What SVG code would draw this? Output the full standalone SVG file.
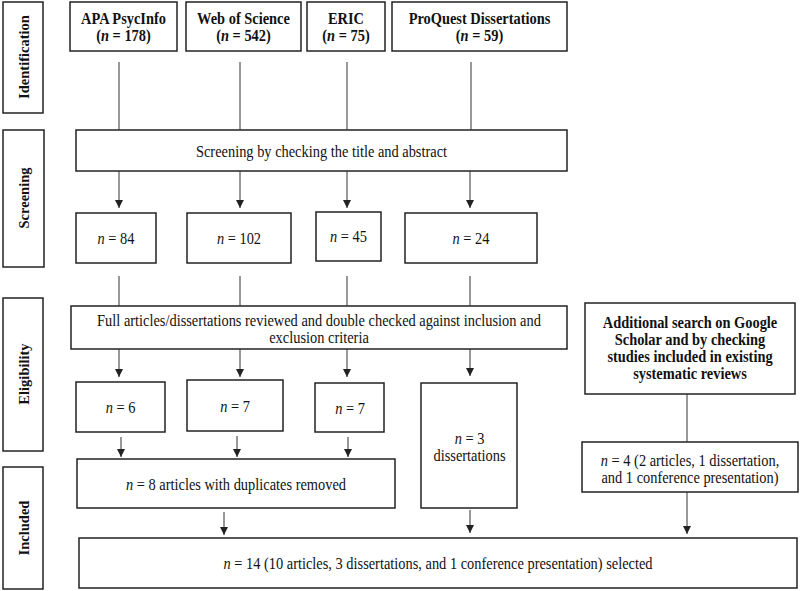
<svg xmlns="http://www.w3.org/2000/svg" width="800" height="591" viewBox="0 0 800 591">
<defs>
<marker id="ah" markerUnits="userSpaceOnUse" markerWidth="8" markerHeight="8" refX="8" refY="4" orient="auto">
<path d="M0,0 L8,4 L0,8 z" fill="#222"/>
</marker>
<style>
.box{fill:#fff;stroke:#222;stroke-width:1.5}
.t{font-family:"Liberation Serif","Times New Roman",serif;font-size:16px;fill:#111;text-anchor:middle}
.r{font-size:14.5px}
.b{font-weight:bold}
.i{font-style:italic}
.ln{stroke:#333;stroke-width:1;fill:none}
.ar{stroke:#333;stroke-width:1;fill:none;marker-end:url(#ah)}
</style>
</defs>
<rect width="800" height="591" fill="#fff"/>

<g id="phase-identification"><rect class="box" x="3" y="2" width="40" height="111"/><text class="t b r" transform="translate(29,57) rotate(-90)">Identification</text></g>
<g id="phase-screening"><rect class="box" x="3" y="130" width="41" height="137"/><text class="t b r" transform="translate(29,198) rotate(-90)">Screening</text></g>
<g id="phase-eligibility"><rect class="box" x="3" y="298" width="40" height="153"/><text class="t b r" transform="translate(29,374) rotate(-90)">Eligibility</text></g>
<g id="phase-included"><rect class="box" x="3" y="467" width="40" height="122"/><text class="t b r" transform="translate(29,528) rotate(-90)">Included</text></g>

<g id="src-apa"><rect class="box" x="70" y="2" width="107" height="49"/><text class="t b" transform="translate(123.5,24) scale(0.9,1)">APA PsycInfo</text><text class="t b" transform="translate(123.5,41) scale(0.9,1)">(<tspan class="i">n</tspan> = 178)</text></g>
<g id="src-wos"><rect class="box" x="186" y="2" width="115" height="49"/><text class="t b" transform="translate(243.5,24) scale(0.9,1)">Web of Science</text><text class="t b" transform="translate(243.5,41) scale(0.9,1)">(<tspan class="i">n</tspan> = 542)</text></g>
<g id="src-eric"><rect class="box" x="307" y="2" width="78" height="49"/><text class="t b" transform="translate(346,24) scale(0.9,1)">ERIC</text><text class="t b" transform="translate(346,41) scale(0.9,1)">(<tspan class="i">n</tspan> = 75)</text></g>
<g id="src-proquest"><rect class="box" x="392" y="2" width="175" height="49"/><text class="t b" transform="translate(479.5,24) scale(0.9,1)">ProQuest Dissertations</text><text class="t b" transform="translate(479.5,41) scale(0.9,1)">(<tspan class="i">n</tspan> = 59)</text></g>

<g id="screening"><rect class="box" x="76" y="130" width="491" height="41"/><text class="t" transform="translate(321.5,157) scale(0.9,1)">Screening by checking the title and abstract</text></g>

<g id="scr-apa"><rect class="box" x="76" y="213" width="80" height="50"/><text class="t" transform="translate(116,244) scale(0.9,1)"><tspan class="i">n</tspan> = 84</text></g>
<g id="scr-wos"><rect class="box" x="187" y="213" width="104" height="50"/><text class="t" transform="translate(239,244) scale(0.9,1)"><tspan class="i">n</tspan> = 102</text></g>
<g id="scr-eric"><rect class="box" x="316" y="212" width="65" height="49"/><text class="t" transform="translate(348.5,242) scale(0.9,1)"><tspan class="i">n</tspan> = 45</text></g>
<g id="scr-proquest"><rect class="box" x="405" y="213" width="132" height="50"/><text class="t" transform="translate(471,244) scale(0.9,1)"><tspan class="i">n</tspan> = 24</text></g>

<g id="eligibility"><rect class="box" x="71" y="306" width="496" height="43"/><text class="t" transform="translate(319,326) scale(0.9,1)">Full articles/dissertations reviewed and double checked against inclusion and</text><text class="t" transform="translate(319,343) scale(0.9,1)">exclusion criteria</text></g>

<g id="additional"><rect class="box" x="585" y="303" width="210" height="91"/><text class="t b" transform="translate(690,328) scale(0.9,1)">Additional search on Google</text><text class="t b" transform="translate(690,345) scale(0.9,1)">Scholar and by checking</text><text class="t b" transform="translate(690,362) scale(0.9,1)">studies included in existing</text><text class="t b" transform="translate(690,379) scale(0.9,1)">systematic reviews</text></g>

<g id="el-apa"><rect class="box" x="76" y="382" width="89" height="50"/><text class="t" transform="translate(120.5,413) scale(0.9,1)"><tspan class="i">n</tspan> = 6</text></g>
<g id="el-wos"><rect class="box" x="187" y="380" width="96" height="51"/><text class="t" transform="translate(235,412) scale(0.9,1)"><tspan class="i">n</tspan> = 7</text></g>
<g id="el-eric"><rect class="box" x="315" y="383" width="69" height="49"/><text class="t" transform="translate(350,414) scale(0.9,1)"><tspan class="i">n</tspan> = 7</text></g>
<g id="el-proquest"><rect class="box" x="421" y="383" width="96" height="125"/><text class="t" transform="translate(469.5,444) scale(0.9,1)"><tspan class="i">n</tspan> = 3</text><text class="t" transform="translate(469.5,461) scale(0.9,1)">dissertations</text></g>

<g id="add-result"><rect class="box" x="582" y="442" width="216" height="50"/><text class="t" transform="translate(690,466) scale(0.9,1)"><tspan class="i">n</tspan> = 4 (2 articles, 1 dissertation,</text><text class="t" transform="translate(690,483) scale(0.9,1)">and 1 conference presentation)</text></g>

<g id="dedup"><rect class="box" x="77" y="459" width="318" height="49"/><text class="t" transform="translate(236,490) scale(0.9,1)"><tspan class="i">n</tspan> = 8 articles with duplicates removed</text></g>

<g id="final"><rect class="box" x="79" y="538" width="718" height="50"/><text class="t" transform="translate(438,569) scale(0.9,1)"><tspan class="i">n</tspan> = 14 (10 articles, 3 dissertations, and 1 conference presentation) selected</text></g>

<g id="connectors">
<path class="ln" d="M119,62 V130 M240,62 V130 M347,62 V130 M471,62 V130"/>
<path class="ar" d="M119,171 V208"/>
<path class="ar" d="M240,171 V208"/>
<path class="ar" d="M347,171 V208"/>
<path class="ar" d="M470,171 V208"/>
<path class="ln" d="M119,276 V306 M240,276 V306 M347,276 V306 M470,276 V306"/>
<path class="ar" d="M119,349 V377"/>
<path class="ar" d="M240,349 V377"/>
<path class="ar" d="M347,349 V377"/>
<path class="ar" d="M470,349 V376"/>
<path class="ln" d="M687,394 V442"/>
<path class="ar" d="M121,437 V457"/>
<path class="ar" d="M237,436 V457"/>
<path class="ar" d="M348,437 V457"/>
<path class="ar" d="M224,512 V535"/>
<path class="ar" d="M470,510 V533"/>
<path class="ar" d="M687,492 V534"/>
</g>
</svg>
